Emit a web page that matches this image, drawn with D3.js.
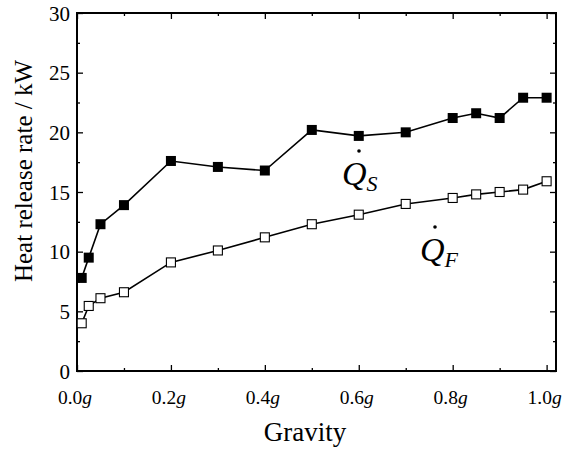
<!DOCTYPE html>
<html>
<head>
<meta charset="utf-8">
<script src="https://cdn.jsdelivr.net/npm/d3@7"></script>
<style>
  body { margin: 0; background: #fff; }
  text { font-family: "Liberation Serif", "Times New Roman", serif; fill: #000; }
</style>
</head>
<body>
<div id="chart"></div>
<script>
// gravity levels (fraction of g)
var gravity = [0.01, 0.025, 0.05, 0.1, 0.2, 0.3, 0.4, 0.5, 0.6, 0.7, 0.8, 0.85, 0.9, 0.95, 1.0];
// heat release rates, kW
var qS = [7.8, 9.5, 12.3, 13.9, 17.6, 17.1, 16.8, 20.2, 19.7, 20.0, 21.2, 21.6, 21.2, 22.9, 22.9];
var qF = [4.0, 5.45, 6.1, 6.6, 9.1, 10.1, 11.2, 12.3, 13.1, 14.0, 14.5, 14.8, 15.0, 15.2, 15.9];

var xTicks = [0, 0.2, 0.4, 0.6, 0.8, 1.0];
var xMinor = [0.1, 0.3, 0.5, 0.7, 0.9];
var yTicks = [0, 5, 10, 15, 20, 25, 30];
var yMinor = [2.5, 7.5, 12.5, 17.5, 22.5, 27.5];

var width = 562, height = 452;
var margin = { top: 13, right: 6, bottom: 81, left: 77 };
var plotW = width - margin.left - margin.right;
var plotH = height - margin.top - margin.bottom;

var svg = d3.select("#chart").append("svg")
  .attr("width", width)
  .attr("height", height);

var g = svg.append("g")
  .attr("transform", "translate(" + margin.left + "," + margin.top + ")");

var x = d3.scaleLinear().domain([0, 1.02]).range([0, plotW]);
var y = d3.scaleLinear().domain([0, 30]).range([plotH, 0]);

// axes, ticks pointing inward on all four sides
function tickAxis(axisFn, scale, ticks, size) {
  return axisFn(scale).tickValues(ticks).tickSizeInner(size).tickSizeOuter(0).tickFormat("");
}

var axBottom = g.append("g").attr("transform", "translate(0," + plotH + ")");
axBottom.call(tickAxis(d3.axisTop, x, xTicks, 6));
axBottom.append("g").call(tickAxis(d3.axisTop, x, xMinor, 3));

var axTop = g.append("g");
axTop.call(tickAxis(d3.axisBottom, x, xTicks, 6));
axTop.append("g").call(tickAxis(d3.axisBottom, x, xMinor, 3));

var axLeft = g.append("g");
axLeft.call(tickAxis(d3.axisRight, y, yTicks, 6));
axLeft.append("g").call(tickAxis(d3.axisRight, y, yMinor, 3));

var axRight = g.append("g").attr("transform", "translate(" + plotW + ",0)");
axRight.call(tickAxis(d3.axisLeft, y, yTicks, 6));
axRight.append("g").call(tickAxis(d3.axisLeft, y, yMinor, 3));

g.selectAll(".domain").remove();
g.selectAll(".tick line").attr("stroke", "#000").attr("stroke-width", 1.3);

g.append("rect")
  .attr("width", plotW)
  .attr("height", plotH)
  .attr("fill", "none")
  .attr("stroke", "#000")
  .attr("stroke-width", 2);

// tick labels
g.selectAll(".ylab").data(yTicks).enter().append("text")
  .attr("x", -7)
  .attr("y", function(d) { return y(d) + 7.5; })
  .attr("text-anchor", "end")
  .attr("font-size", 21)
  .text(function(d) { return d; });

var xl = g.selectAll(".xlab").data(xTicks).enter().append("text")
  .attr("x", function(d) { return x(d) - 2; })
  .attr("y", plotH + 33)
  .attr("text-anchor", "middle")
  .attr("font-size", 19.5);
xl.append("tspan").text(function(d) { return d.toFixed(1); });
xl.append("tspan").attr("font-style", "italic").text("g");

// axis titles
svg.append("text")
  .attr("x", 305)
  .attr("y", 441)
  .attr("text-anchor", "middle")
  .attr("font-size", 27)
  .text("Gravity");

svg.append("text")
  .attr("transform", "translate(32,171) rotate(-90)")
  .attr("text-anchor", "middle")
  .attr("font-size", 25)
  .text("Heat release rate / kW");

// series
var line = d3.line()
  .x(function(d) { return x(d[0]); })
  .y(function(d) { return y(d[1]); });

function drawSeries(vals, filled) {
  var pts = gravity.map(function(gv, i) { return [gv, vals[i]]; });
  g.append("path")
    .datum(pts)
    .attr("d", line)
    .attr("fill", "none")
    .attr("stroke", "#000")
    .attr("stroke-width", 1.6);
  var s = filled ? 10 : 9;
  g.selectAll(null).data(pts).enter().append("rect")
    .attr("x", function(d) { return x(d[0]) - s / 2; })
    .attr("y", function(d) { return y(d[1]) - s / 2; })
    .attr("width", s)
    .attr("height", s)
    .attr("fill", filled ? "#000" : "#fff")
    .attr("stroke", "#000")
    .attr("stroke-width", filled ? 0 : 1.1);
}
drawSeries(qS, true);
drawSeries(qF, false);

// Q-dot labels
function qdot(px, py, sub, dotDx) {
  var t = svg.append("text")
    .attr("x", px)
    .attr("y", py)
    .attr("font-size", 34)
    .attr("font-style", "italic");
  t.append("tspan").text("Q");
  t.append("tspan").attr("font-size", 22).attr("dy", 6).text(sub);
  svg.append("circle")
    .attr("cx", px + dotDx)
    .attr("cy", py - 34)
    .attr("r", 1.8)
    .attr("fill", "#000");
}
qdot(342, 185, "S", 17);
qdot(420, 261, "F", 15);
</script>
</body>
</html>
